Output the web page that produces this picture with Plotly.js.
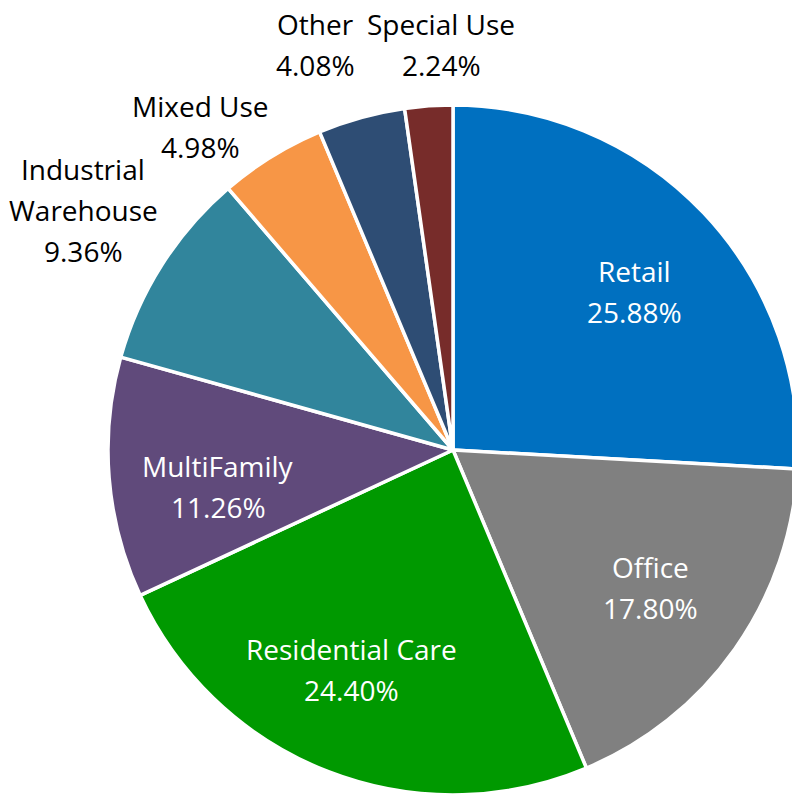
<!DOCTYPE html>
<html>
<head>
<meta charset="utf-8">
<script src="https://cdn.plot.ly/plotly-3.0.1.min.js"></script>
<style>
html,body{margin:0;padding:0;overflow:hidden;background:#fff;}
#chart{width:800px;height:800px;}
</style>
</head>
<body>
<div id="chart"></div>
<script>
// ---- data ----
const categories = ["Retail","Office","Residential Care","MultiFamily","Industrial Warehouse","Mixed Use","Other","Special Use"];
const shares = [25.88, 17.80, 24.40, 11.26, 9.36, 4.98, 4.08, 2.24];
const labelLines = [["Retail"],["Office"],["Residential Care"],["MultiFamily"],["Industrial","Warehouse"],["Mixed Use"],["Other"],["Special Use"]];

// ---- styling ----
const colors = ["#0070C0","#808080","#009900","#604A7B","#31859C","#F79646","#2E4D74","#772C2A"];
const textColors = ["#fff","#fff","#fff","#fff","#000","#000","#000","#000"];
// label block anchor (px, first-line centre) and line spacing
const labelPos = [[634,271],[650,567],[351,649],[218,466],[83,169],[200,106],[315,24],[441,24]];
const lineGap = 41;
const W = 800, H = 800;

const annotations = [];
categories.forEach((c,i)=>{
  const lines = labelLines[i].concat([shares[i].toFixed(2)+"%"]);
  lines.forEach((t,k)=>{
    annotations.push({
      text: t, showarrow:false, xref:"paper", yref:"paper",
      x: labelPos[i][0]/W, y: 1-(labelPos[i][1]+k*lineGap)/H,
      xanchor:"center", yanchor:"middle",
      font:{family:"Open Sans, Noto Sans, sans-serif", size:28, color:textColors[i]}
    });
  });
});

const trace = {
  type:"pie", labels:categories, values:shares, sort:false, direction:"clockwise",
  rotation:0, textinfo:"none", hoverinfo:"label+percent",
  marker:{colors:colors, line:{color:"#fff", width:3.5}},
  domain:{x:[(453-345)/W,(453+345)/W], y:[(H-795)/H,(H-105)/H]}
};

Plotly.newPlot("chart",[trace],{
  width:W, height:H, margin:{l:0,r:0,t:0,b:0}, showlegend:false,
  paper_bgcolor:"#fff", annotations:annotations
},{displayModeBar:false, staticPlot:true});
</script>
</body>
</html>
